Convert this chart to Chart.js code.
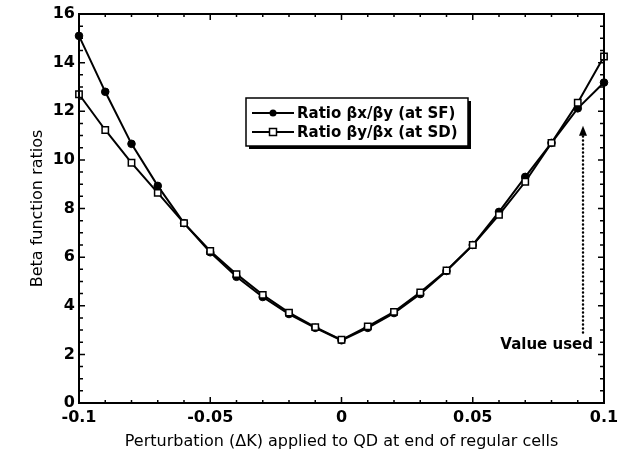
<!DOCTYPE html>
<html>
<head>
<meta charset="utf-8">
<script src="https://cdn.jsdelivr.net/npm/chart.js@4.4.0/dist/chart.umd.min.js"></script>
<style>
  html, body { margin: 0; padding: 0; background: #fff; }
  #wrap { width: 625px; height: 459px; }
</style>
</head>
<body>
<div id="wrap"><canvas id="chart" width="625" height="459"></canvas></div>
<script>
// Data
const xValues = [-0.1, -0.09, -0.08, -0.07, -0.06, -0.05, -0.04, -0.03, -0.02, -0.01, 0,
                 0.01, 0.02, 0.03, 0.04, 0.05, 0.06, 0.07, 0.08, 0.09, 0.1];
const sfRatio = [15.1, 12.8, 10.66, 8.93, 7.4, 6.2, 5.19, 4.36, 3.66, 3.09, 2.58,
                 3.09, 3.7, 4.48, 5.43, 6.5, 7.86, 9.3, 10.7, 12.12, 13.18];
const sdRatio = [12.7, 11.23, 9.88, 8.64, 7.4, 6.25, 5.3, 4.45, 3.72, 3.12, 2.6,
                 3.15, 3.75, 4.55, 5.45, 6.5, 7.74, 9.1, 10.7, 12.35, 14.25];

const xTicks = [-0.1, -0.05, 0, 0.05, 0.1];
const xTickLabels = ['-0.1', '-0.05', '0', '0.05', '0.1'];
const yTicks = [0, 2, 4, 6, 8, 10, 12, 14, 16];

const legendLabels = ['Ratio \u03b2x/\u03b2y (at SF)', 'Ratio \u03b2y/\u03b2x (at SD)'];

// "Value used" arrow (data coordinates)
const valueUsedX = 0.092;
const arrowFrom = 2.9;
const arrowTo = 11.4;
const valueUsedLabelY = 2.39;

const FONT = '"DejaVu Sans", "Liberation Sans", Arial, sans-serif';

// frame, inward ticks, legend and annotation
const decorPlugin = {
  id: 'decor',
  afterDraw(chart) {
    const ctx = chart.ctx;
    const xs = chart.scales.x;
    const ys = chart.scales.y;
    const a = chart.chartArea;
    ctx.save();
    ctx.strokeStyle = '#000';
    ctx.fillStyle = '#000';

    // frame
    ctx.lineWidth = 2;
    ctx.strokeRect(a.left, a.top, a.right - a.left, a.bottom - a.top);

    // x ticks every 0.01, major every 0.05
    ctx.lineWidth = 1.5;
    for (let i = -10; i <= 10; i++) {
      const px = xs.getPixelForValue(i / 100);
      const len = (i % 5 === 0) ? 6 : 3;
      ctx.beginPath();
      ctx.moveTo(px, a.bottom); ctx.lineTo(px, a.bottom - len);
      ctx.moveTo(px, a.top); ctx.lineTo(px, a.top + len);
      ctx.stroke();
    }
    // y ticks every 0.5, major every 2
    for (let i = 0; i <= 32; i++) {
      const py = ys.getPixelForValue(i / 2);
      const len = (i % 4 === 0) ? 6 : 4;
      ctx.beginPath();
      ctx.moveTo(a.left, py); ctx.lineTo(a.left + len, py);
      ctx.moveTo(a.right, py); ctx.lineTo(a.right - len, py);
      ctx.stroke();
    }

    // legend box
    const bx = 246, by = 98, bw = 222, bh = 48;
    ctx.fillRect(bx + 3, by + 3, bw, bh);
    ctx.fillStyle = '#fff';
    ctx.fillRect(bx, by, bw, bh);
    ctx.lineWidth = 1.5;
    ctx.strokeRect(bx, by, bw, bh);
    ctx.fillStyle = '#000';
    ctx.font = 'bold 15px ' + FONT;
    ctx.textBaseline = 'middle';
    ctx.textAlign = 'left';
    const rows = [by + 15, by + 34];
    rows.forEach((ry, i) => {
      ctx.lineWidth = 2;
      ctx.beginPath();
      ctx.moveTo(bx + 6, ry); ctx.lineTo(bx + 48, ry);
      ctx.stroke();
      if (i === 0) {
        ctx.beginPath();
        ctx.arc(bx + 27, ry, 3.5, 0, Math.PI * 2);
        ctx.fill();
      } else {
        ctx.fillStyle = '#fff';
        ctx.fillRect(bx + 23.5, ry - 3.5, 7, 7);
        ctx.lineWidth = 1.5;
        ctx.strokeRect(bx + 23.5, ry - 3.5, 7, 7);
        ctx.fillStyle = '#000';
      }
      ctx.fillText(legendLabels[i], bx + 51, ry + 1);
    });

    // dotted arrow "Value used"
    const ax = xs.getPixelForValue(valueUsedX);
    const y0 = ys.getPixelForValue(arrowFrom);
    const y1 = ys.getPixelForValue(arrowTo);
    ctx.lineWidth = 2.5;
    ctx.lineCap = 'round';
    ctx.setLineDash([0, 4]);
    ctx.beginPath();
    ctx.moveTo(ax, y0); ctx.lineTo(ax, y1 + 9);
    ctx.stroke();
    ctx.setLineDash([]);
    ctx.beginPath();
    ctx.moveTo(ax, y1);
    ctx.lineTo(ax - 4, y1 + 10);
    ctx.lineTo(ax + 4, y1 + 10);
    ctx.closePath();
    ctx.fill();

    ctx.textAlign = 'right';
    ctx.font = 'bold 15px ' + FONT;
    ctx.fillText('Value used', ax + 10, ys.getPixelForValue(valueUsedLabelY));
    ctx.restore();
  }
};

new Chart(document.getElementById('chart').getContext('2d'), {
  type: 'line',
  data: {
    datasets: [{
      label: legendLabels[0],
      data: xValues.map((x, i) => ({ x: x, y: sfRatio[i] })),
      borderColor: '#000',
      backgroundColor: '#000',
      borderWidth: 2,
      pointStyle: 'circle',
      pointRadius: 3.8,
      pointBorderWidth: 1,
      pointBackgroundColor: '#000',
      pointBorderColor: '#000',
      tension: 0,
      clip: false,
      order: 1
    }, {
      label: legendLabels[1],
      data: xValues.map((x, i) => ({ x: x, y: sdRatio[i] })),
      borderColor: '#000',
      backgroundColor: '#fff',
      borderWidth: 2,
      pointStyle: 'rect',
      pointRadius: 4.5,
      pointBorderWidth: 1.5,
      pointBackgroundColor: '#fff',
      pointBorderColor: '#000',
      tension: 0,
      clip: false,
      order: 0
    }]
  },
  options: {
    responsive: false,
    animation: false,
    layout: { padding: { top: 14, right: 21, left: 0, bottom: 0 } },
    plugins: {
      legend: { display: false },
      tooltip: { enabled: false }
    },
    scales: {
      x: {
        type: 'linear',
        min: -0.1,
        max: 0.1,
        afterBuildTicks: (scale) => { scale.ticks = xTicks.map(v => ({ value: v })); },
        afterFit: (scale) => { scale.height = 56; },
        ticks: {
          callback: (v, i) => xTickLabels[i],
          color: '#000',
          font: { family: FONT, size: 16, weight: 'bold' },
          padding: 5,
          maxRotation: 0
        },
        grid: { display: false, drawTicks: false },
        border: { display: false },
        title: {
          display: true,
          text: 'Perturbation (\u0394K) applied to QD at end of regular cells',
          color: '#000',
          font: { family: FONT, size: 16 },
          padding: { top: 0, bottom: 8 }
        }
      },
      y: {
        min: 0,
        max: 16,
        afterBuildTicks: (scale) => { scale.ticks = yTicks.map(v => ({ value: v })); },
        afterFit: (scale) => { scale.width = 79; },
        ticks: {
          color: '#000',
          font: { family: FONT, size: 16, weight: 'bold' },
          padding: 4
        },
        grid: { display: false, drawTicks: false },
        border: { display: false },
        title: {
          display: true,
          text: 'Beta function ratios',
          color: '#000',
          font: { family: FONT, size: 16 },
          padding: { top: 28, bottom: 0 }
        }
      }
    }
  },
  plugins: [decorPlugin]
});
</script>
</body>
</html>
